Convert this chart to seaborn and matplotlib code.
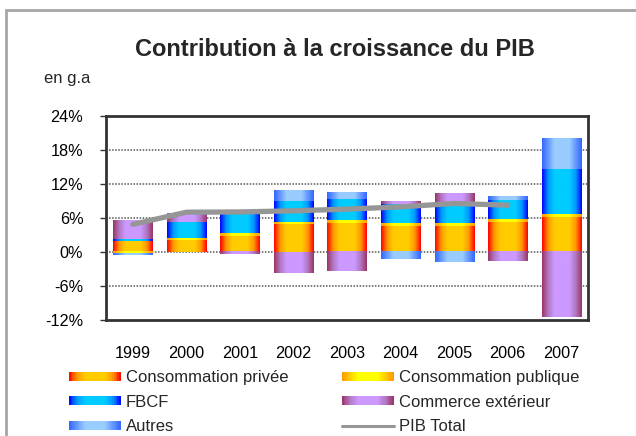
import numpy as np
import pandas as pd
import matplotlib
matplotlib.use("Agg")
import matplotlib.pyplot as plt
import seaborn as sns
from matplotlib.colors import LinearSegmentedColormap
from matplotlib.patches import Rectangle
from matplotlib.legend_handler import HandlerBase
from matplotlib.lines import Line2D

# ---------------- data ----------------
years = ["1999", "2000", "2001", "2002", "2003", "2004", "2005", "2006", "2007"]
conso_privee = [1.8, 2.0, 2.8, 4.9, 5.05, 4.6, 4.6, 5.2, 6.1]
conso_publique = [-0.3, 0.35, 0.5, 0.3, 0.5, 0.5, 0.5, 0.5, 0.5]
fbcf = [0.4, 2.8, 3.2, 3.7, 3.7, 3.35, 3.3, 3.35, 7.9]
commerce_ext = [3.2, 1.35, -0.4, -3.7, -3.4, 0.5, 1.8, -1.65, -11.5]
autres = [-0.3, 0.35, 0.0, 1.8, 1.2, -1.3, -1.8, 0.7, 5.3]
pib_years = ["1999", "2000", "2001", "2002", "2003", "2004", "2005", "2006"]
pib_total = [4.8, 6.95, 7.0, 7.2, 7.5, 7.9, 8.5, 8.2]

series_names = ["Consommation privée", "Consommation publique", "FBCF",
                "Commerce extérieur", "Autres"]
series_values = [conso_privee, conso_publique, fbcf, commerce_ext, autres]
yticks = [-12, -6, 0, 6, 12, 18, 24]
ytick_labels = ["-12%", "-6%", "0%", "6%", "12%", "18%", "24%"]

# gradient (edge -> centre) per series
gradients = {
    "Consommation privée": ["#FF0000", "#FF9900", "#FFCC00"],
    "Consommation publique": ["#FF9900", "#FFCC00", "#FFFF00"],
    "FBCF": ["#0000FF", "#0099FF", "#00CCFF"],
    "Commerce extérieur": ["#993366", "#B377C2", "#CC99FF"],
    "Autres": ["#3366FF", "#6699FF", "#99CCFF"],
}
cmaps = {k: LinearSegmentedColormap.from_list(k, v) for k, v in gradients.items()}

# ---------------- figure ----------------
sns.set_theme(style="white")
plt.rcParams["font.family"] = ["Liberation Sans", "DejaVu Sans"]

fig = plt.figure(figsize=(6.36, 4.36), dpi=100)
ax = fig.add_axes([106 / 636, 1 - 319.5 / 436, (588 - 106) / 636, (319.5 - 115.7) / 436])

pos_cum = np.zeros(len(years))
neg_cum = np.zeros(len(years))
patch_groups = {}
for name, vals in zip(series_names, series_values):
    vals = np.array(vals, dtype=float)
    bottoms = np.where(vals >= 0, pos_cum, neg_cum)
    n0 = len(ax.patches)
    sns.barplot(x=years, y=vals, bottom=bottoms, color=gradients[name][0],
                saturation=1, width=0.73, ax=ax, linewidth=0)
    patch_groups[name] = ax.patches[n0:]
    pos_cum = pos_cum + np.where(vals >= 0, vals, 0)
    neg_cum = neg_cum + np.where(vals < 0, vals, 0)

# gradient fill of every bar
prof = 1 - np.abs(np.linspace(-1, 1, 256))
prof = np.clip(prof * 1.6, 0, 1)
grad = prof[np.newaxis, :]
for name, patches in patch_groups.items():
    for p in patches:
        x0, y0 = p.get_x(), p.get_y()
        w, h = p.get_width(), p.get_height()
        if h == 0:
            continue
        ax.imshow(grad, cmap=cmaps[name], aspect="auto", interpolation="bilinear",
                  extent=[x0, x0 + w, min(y0, y0 + h), max(y0, y0 + h)],
                  zorder=2, vmin=0, vmax=1)
        p.set_visible(False)

# PIB total line
sns.lineplot(x=pib_years, y=pib_total, ax=ax, color="#969696", linewidth=3.8,
             sort=False, zorder=5, solid_capstyle="round")

ax.set_xlim(-0.5, len(years) - 0.5)
ax.set_ylim(-12, 24)
ax.set_yticks(yticks)
ax.set_yticklabels(ytick_labels)
ax.set_xlabel("")
ax.set_ylabel("")
for yv in yticks[1:-1]:
    ax.axhline(yv, color="#555555", linestyle=(0, (1, 1)), linewidth=1.1, zorder=1)
ax.grid(False)
for s in ax.spines.values():
    s.set_color("#333333")
    s.set_linewidth(2)
    s.set_zorder(6)
ax.tick_params(axis="y", length=4.3, width=1, color="#333333", pad=12,
               labelsize=11.7, labelcolor="black", left=True, direction="out")
ax.tick_params(axis="x", length=0, pad=19, labelsize=11.7, labelcolor="black")
if ax.get_legend():
    ax.get_legend().remove()

# outer frame
fig.add_artist(Rectangle((6 / 636, -0.2), 1.2, 1 - 10 / 436 + 0.2,
                         transform=fig.transFigure, fill=False,
                         edgecolor="#A6A6A6", linewidth=2))

# titles
fig.text(335 / 636, 1 - 49 / 436, "Contribution à la croissance du PIB",
         ha="center", va="center", fontsize=17, fontweight="bold")
fig.text(44 / 636, 1 - 78 / 436, "en g.a", ha="left", va="center", fontsize=12)


# legend with gradient handles
class GradHandle:
    def __init__(self, cmap):
        self.cmap = cmap


class HandlerGrad(HandlerBase):
    def create_artists(self, legend, orig_handle, xdescent, ydescent, width,
                       height, fontsize, trans):
        n = 30
        arts = []
        h = height * 0.75
        y0 = -ydescent + (height - h) / 2
        for i in range(n):
            t = (i + 0.5) / n
            v = np.clip((1 - abs(2 * t - 1)) * 1.6, 0, 1)
            r = Rectangle((-xdescent + width * i / n, y0), width / n * 1.05, h,
                          facecolor=orig_handle.cmap(v), edgecolor="none",
                          transform=trans)
            arts.append(r)
        return arts


handles = {n: GradHandle(cmaps[n]) for n in series_names}
pib_handle = Line2D([0], [0], color="#969696", linewidth=2.2)
order = [("Consommation privée", handles["Consommation privée"]),
         ("FBCF", handles["FBCF"]),
         ("Autres", handles["Autres"]),
         ("Consommation publique", handles["Consommation publique"]),
         ("Commerce extérieur", handles["Commerce extérieur"]),
         ("PIB Total", pib_handle)]
fig.legend([h for _, h in order], [l for l, _ in order], ncol=2,
           loc="upper left", bbox_to_anchor=(69 / 636, 1 - 370 / 436),
           frameon=False, fontsize=12, handlelength=3.1, handletextpad=0.32,
           columnspacing=3.2, labelspacing=0.58, borderpad=0, borderaxespad=0,
           handler_map={GradHandle: HandlerGrad()})

fig.savefig("out.png", dpi=100)
